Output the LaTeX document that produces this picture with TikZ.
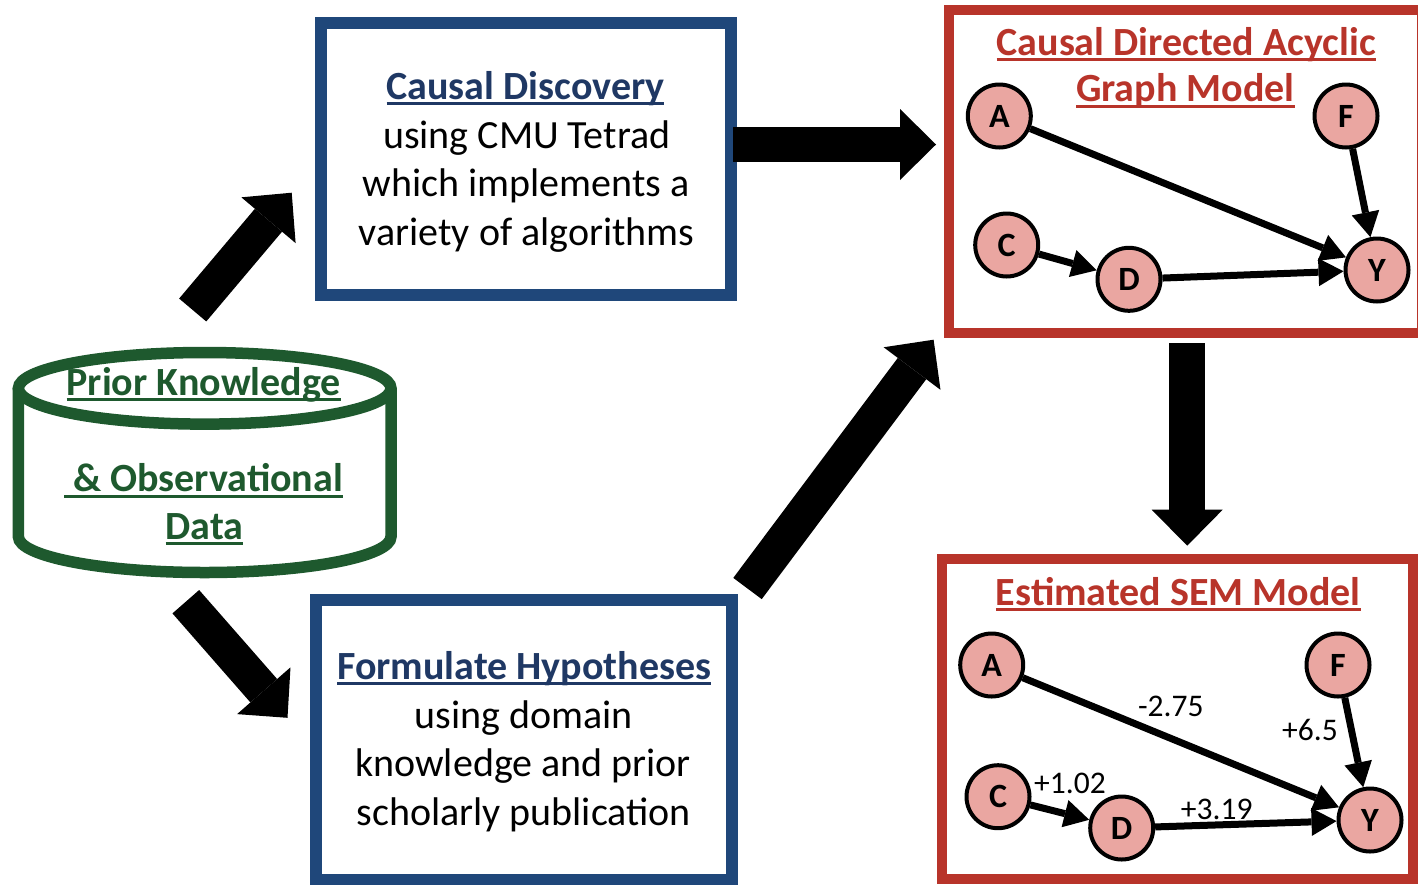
\documentclass[tikz,border=0pt]{standalone}
\usepackage{fontspec}
\setmainfont{Carlito}
\usetikzlibrary{arrows.meta}
\definecolor{bluebd}{RGB}{31,71,122}
\definecolor{bluetx}{RGB}{31,56,100}
\definecolor{redbd}{RGB}{184,52,42}
\definecolor{greenbd}{RGB}{30,89,46}
\definecolor{nodepink}{RGB}{234,166,161}
\newcommand\ulinetext[1]{\setbox0=\hbox{#1}\rlap{\rule[-6pt]{\wd0}{3pt}}\box0}
\begin{document}
\begin{tikzpicture}[x=1pt,y=-1pt,
  txt/.style={inner sep=0pt, anchor=base, font=\fontsize{40}{48}\selectfont},
  ttl/.style={txt, font=\bfseries\fontsize{40}{48}\selectfont},
  bluebox/.style={draw=bluebd, line width=12pt, inner sep=0pt},
  redbox/.style={draw=redbd, line width=10.5pt, inner sep=0pt},
  var/.style={circle, draw=black, line width=4pt, fill=nodepink, minimum size=63pt, inner sep=0pt, font=\bfseries\fontsize{34}{36}\selectfont},
  dagarrow/.style={line width=7pt, -{Triangle[width=28pt,length=25pt,line width=0pt]}},
  blockarrow/.style={line width=35.5pt, -{Triangle[width=71pt,length=36pt,line width=0pt]}},
  lbl/.style={inner sep=0pt, anchor=base, font=\fontsize{31.5}{33}\selectfont}
]
\useasboundingbox (0,0) rectangle (1418,884);

% boxes
\node[bluebox, minimum width=410.5pt, minimum height=271.5pt] (cd) at (526,158.75) {};
\node[bluebox, minimum width=416pt, minimum height=280pt] (fh) at (524.2,739.5) {};
\node[redbox, minimum width=473pt, minimum height=323pt] (dag) at (1185.5,171.5) {};
\node[redbox, minimum width=471pt, minimum height=320pt] (sem) at (1177.5,719) {};

% cylinder
\draw[greenbd, line width=11.5pt] (204.7,388.3) ellipse [x radius=186.3pt, y radius=35.8pt];
\draw[greenbd, line width=11.5pt] (18.4,388.3) -- (18.4,536.7)
  arc[start angle=180, end angle=360, x radius=186.3pt, y radius=35.8pt] -- (391,388.3);

% cylinder text
\node[ttl, text=greenbd] (pk1) at (203.7,395) {\ulinetext{Prior Knowledge}};
\node[ttl, text=greenbd] (pk2) at (203.5,491.7) {\ulinetext{\ \& Observational}};
\node[ttl, text=greenbd] (pk3) at (204.5,539.3) {\ulinetext{Data}};

% causal discovery text
\node[ttl, text=bluetx] (cd1) at (525.5,99.3) {\ulinetext{Causal Discovery}};
\node[txt] (cd2) at (526.7,148.3) {using CMU Tetrad};
\node[txt] (cd3) at (526,196.7) {which implements a};
\node[txt] (cd4) at (526.7,245) {variety of algorithms};

% formulate hypotheses text
\node[ttl, text=bluetx] (fh1) at (524.3,679.3) {\ulinetext{Formulate Hypotheses}};
\node[txt] (fh2) at (523.7,728.3) {using domain};
\node[txt] (fh3) at (523,776.7) {knowledge and prior};
\node[txt] (fh4) at (523.8,825) {scholarly publication};

% DAG box
\node[ttl, text=redbd] (dt1) at (1186.2,55) {\ulinetext{Causal Directed Acyclic}};
\node[ttl, text=redbd] (dt2) at (1185.3,101.7) {\ulinetext{Graph Model}};
\node[var] (dA) at (999.3,116) {A};
\node[var] (dF) at (1346,116) {F};
\node[var] (dC) at (1006.7,245) {C};
\node[var] (dD) at (1129,279.3) {D};
\node[var] (dY) at (1377,270) {Y};
\draw[dagarrow] (dA) -- (dY);
\draw[dagarrow] (dF) -- (dY);
\draw[dagarrow] (dC) -- (dD);
\draw[dagarrow] (dD) -- (dY);

% SEM box
\node[ttl, text=redbd] (st) at (1178.3,605) {\ulinetext{Estimated SEM Model}};
\node[var] (sA) at (991.7,665) {A};
\node[var] (sF) at (1338,665) {F};
\node[var] (sC) at (998,796.7) {C};
\node[var] (sD) at (1121.7,828) {D};
\node[var] (sY) at (1370,820) {Y};
\draw[dagarrow] (sA) -- (sY);
\draw[dagarrow] (sF) -- (sY);
\draw[dagarrow] (sC) -- (sD);
\draw[dagarrow] (sD) -- (sY);
\node[lbl] (l1) at (1170.8,716.7) {-2.75};
\node[lbl] (l2) at (1310,740) {+6.5};
\node[lbl] (l3) at (1070,793.3) {+1.02};
\node[lbl] (l4) at (1216.7,819.3) {+3.19};

% block arrows
\coordinate (a1t) at (192.7,310);
\coordinate (a1h) at (291.7,192.7);
\coordinate (a2t) at (185.8,601.7);
\coordinate (a2h) at (287.5,717.8);
\coordinate (a3t) at (733,144.5);
\coordinate (a3h) at (936,144.5);
\coordinate (a4t) at (747.5,588.5);
\coordinate (a4h) at (933.6,339.7);
\coordinate (a5t) at (1187.2,343.3);
\coordinate (a5h) at (1187.2,545.7);
\draw[blockarrow] (a1t) -- (a1h);
\draw[blockarrow] (a2t) -- (a2h);
\draw[blockarrow] (a3t) -- (a3h);
\draw[blockarrow] (a4t) -- (a4h);
\draw[blockarrow] (a5t) -- (a5h);
\end{tikzpicture}
\end{document}
